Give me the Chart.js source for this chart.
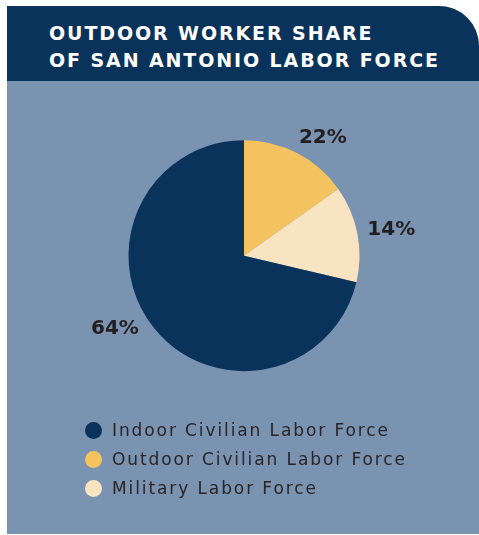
<!DOCTYPE html>
<html>
<head>
<meta charset="utf-8">
<script src="https://cdn.jsdelivr.net/npm/chart.js@4"></script>
<style>
    html, body { margin: 0; padding: 0; background: #ffffff; }
    body { width: 479px; height: 535px; position: relative; overflow: hidden; }
    .card { position: absolute; left: 7px; top: 6px; width: 472px; height: 528px; background: #7a93b1; border-top-right-radius: 40px; overflow: hidden; }
    .card-header { position: absolute; left: 0; top: 0; width: 472px; height: 75px; background: #0a335b; }
    .card-title { position: absolute; left: 42px; top: 14px; color: #ffffff; font-family: "DejaVu Sans", sans-serif; font-weight: bold; font-size: 19px; line-height: 27px; letter-spacing: 1.9px; white-space: nowrap; }
    #pie { position: absolute; left: 0; top: 0; }
    .legend { position: absolute; left: 78px; top: 410px; font-family: "DejaVu Sans", sans-serif; font-size: 17px; line-height: 29px; letter-spacing: 1.9px; color: #2a2527; }
    .legend-row { position: relative; padding-left: 27px; height: 29px; white-space: nowrap; }
    .legend-dot { position: absolute; left: 0; top: 6px; width: 17px; height: 17px; border-radius: 50%; }
</style>
</head>
<body>
<div class="card">
    <div class="card-header">
        <div class="card-title">OUTDOOR WORKER SHARE<br>OF SAN ANTONIO LABOR FORCE</div>
    </div>
    <canvas id="pie" width="472" height="528"></canvas>
    <div class="legend" id="legend"></div>
</div>
<script>
// Slices in drawing order (clockwise from 12 o'clock)
const sliceLabels = ['Outdoor Civilian Labor Force', 'Military Labor Force', 'Indoor Civilian Labor Force'];
const sliceShares = [15.2, 13.5, 71.3]; // size of each slice as drawn
const shareText = ['22%', '14%', '64%']; // printed labels
const sliceColors = ['#f4c35f', '#f9e4c1', '#0a335b'];
const legendOrder = [2, 0, 1];

window.PieView = {
    chart: null,

    init() {
        this.buildChart();
        this.buildLegend();
    },

    // Percent labels outside the pie
    outsideLabels: {
        id: 'outsideLabels',
        afterDatasetsDraw(chart, args, opts) {
            const ctx = chart.ctx;
            const meta = chart.getDatasetMeta(0);
            ctx.save();
            ctx.font = 'bold 20px "DejaVu Sans", sans-serif';
            ctx.fillStyle = '#231f20';
            ctx.textAlign = 'center';
            ctx.textBaseline = 'middle';
            meta.data.forEach((arc, i) => {
                const p = arc.getProps(['x', 'y', 'startAngle', 'endAngle', 'outerRadius'], true);
                const mid = (p.startAngle + p.endAngle) / 2 + opts.angleShift[i] * Math.PI / 180;
                const r = p.outerRadius + opts.gap[i];
                ctx.fillText(shareText[i], p.x + Math.cos(mid) * r, p.y + Math.sin(mid) * r);
            });
            ctx.restore();
        }
    },

    buildChart() {
        const ctx = document.getElementById('pie');
        this.chart = new Chart(ctx, {
            type: 'pie',
            data: {
                labels: sliceLabels,
                datasets: [{
                    data: sliceShares,
                    backgroundColor: sliceColors,
                    borderWidth: 0
                }]
            },
            options: {
                responsive: false,
                animation: false,
                devicePixelRatio: 1,
                layout: {
                    padding: { left: 121.5, right: 119.5, top: 134.2, bottom: 162.8 }
                },
                plugins: {
                    legend: { display: false },
                    tooltip: { enabled: false },
                    outsideLabels: {
                        angleShift: [6.5, 1, 8.7],
                        gap: [26, 34, 33]
                    }
                }
            },
            plugins: [this.outsideLabels]
        });
    },

    // HTML legend, in the order of the reference
    buildLegend() {
        const el = document.getElementById('legend');
        legendOrder.forEach(i => {
            const row = document.createElement('div');
            row.className = 'legend-row';
            const dot = document.createElement('span');
            dot.className = 'legend-dot';
            dot.style.background = sliceColors[i];
            row.appendChild(dot);
            row.appendChild(document.createTextNode(sliceLabels[i]));
            el.appendChild(row);
        });
    }
};

window.PieView.init();
</script>
</body>
</html>
